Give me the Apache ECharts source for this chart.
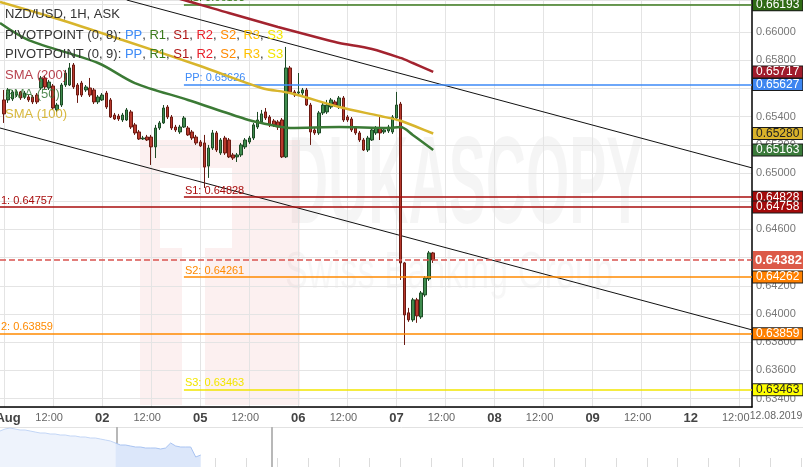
<!DOCTYPE html>
<html><head><meta charset="utf-8">
<script src="https://cdn.jsdelivr.net/npm/echarts@6/dist/echarts.min.js"></script>
<style>html,body{margin:0;padding:0;background:#fff}#c{width:803px;height:467px}</style>
</head><body><div id="c"></div>
<script>
const FONT = "'Liberation Sans', Arial, sans-serif";

// ---- axis scaffolding: trading hours since 01 Aug 00:00 (weekend removed) ----
const hourFirst = -1, hourLast = 183;
const dayLabels = ['Aug', '02', '05', '06', '07', '08', '09', '12'];
const halfDayLabel = '12:00';
const endDateLabel = '12.08.2019';

// ---- NZD/USD 1H candles, hours 0..105 : [open, close, low, high] ----
const candles = [
 [0.65518,0.65419,0.65355,0.65589],[0.65518,0.65589,0.65497,0.65603],[0.65525,0.65575,0.65511,0.65589],
 [0.65553,0.65575,0.65539,0.65589],[0.65575,0.65532,0.65518,0.65582],[0.65539,0.65567,0.65525,0.65582],
 [0.65539,0.65518,0.65504,0.65553],[0.65539,0.65504,0.65489,0.65553],[0.65553,0.65504,0.65489,0.65567],
 [0.65603,0.65674,0.65589,0.65688],[0.65674,0.65610,0.65596,0.65688],[0.65603,0.65645,0.65589,0.65660],
 [0.65617,0.65461,0.65447,0.65631],[0.65447,0.65482,0.65433,0.65497],[0.65482,0.65624,0.65468,0.65638],
 [0.65624,0.65709,0.65610,0.65731],[0.65624,0.65745,0.65617,0.65780],[0.65766,0.65610,0.65596,0.65780],
 [0.65624,0.65553,0.65497,0.65638],[0.65638,0.65553,0.65539,0.65653],[0.65589,0.65610,0.65575,0.65624],
 [0.65603,0.65553,0.65539,0.65674],[0.65589,0.65504,0.65489,0.65603],[0.65504,0.65539,0.65489,0.65553],
 [0.65518,0.65553,0.65511,0.65567],[0.65567,0.65468,0.65454,0.65582],[0.65518,0.65397,0.65390,0.65532],
 [0.65411,0.65383,0.65376,0.65426],[0.65404,0.65383,0.65369,0.65419],[0.65376,0.65411,0.65362,0.65426],
 [0.65376,0.65447,0.65369,0.65461],[0.65433,0.65326,0.65312,0.65447],[0.65341,0.65284,0.65270,0.65355],
 [0.65291,0.65241,0.65234,0.65305],[0.65241,0.65248,0.65234,0.65263],[0.65255,0.65234,0.65227,0.65270],
 [0.65255,0.65185,0.65057,0.65270],[0.65185,0.65319,0.65106,0.65341],[0.65319,0.65355,0.65305,0.65369],
 [0.65355,0.65461,0.65348,0.65482],[0.65468,0.65397,0.65383,0.65482],[0.65397,0.65319,0.65305,0.65411],
 [0.65326,0.65305,0.65291,0.65341],[0.65291,0.65326,0.65277,0.65341],[0.65326,0.65390,0.65319,0.65404],
 [0.65319,0.65270,0.65263,0.65333],[0.65291,0.65248,0.65234,0.65305],[0.65255,0.65213,0.65199,0.65270],
 [0.65220,0.65192,0.65185,0.65234],[0.65213,0.65042,0.64894,0.65270],[0.65049,0.65177,0.64965,0.65199],
 [0.65177,0.65284,0.65163,0.65305],[0.65284,0.65163,0.65149,0.65298],[0.65142,0.65234,0.65128,0.65248],
 [0.65248,0.65142,0.65128,0.65263],[0.65234,0.65114,0.65106,0.65248],[0.65128,0.65106,0.65092,0.65142],
 [0.65114,0.65128,0.65078,0.65142],[0.65128,0.65199,0.65114,0.65213],[0.65185,0.65234,0.65170,0.65248],
 [0.65220,0.65248,0.65206,0.65263],[0.65248,0.65341,0.65234,0.65355],[0.65326,0.65376,0.65312,0.65433],
 [0.65362,0.65419,0.65348,0.65447],[0.65433,0.65390,0.65376,0.65461],[0.65397,0.65341,0.65326,0.65411],
 [0.65369,0.65341,0.65326,0.65383],[0.65362,0.65326,0.65305,0.65376],[0.65376,0.65114,0.65106,0.65390],
 [0.65114,0.65745,0.65106,0.65894],[0.65745,0.65575,0.65560,0.65759],[0.65575,0.65553,0.65539,0.65589],
 [0.65567,0.65575,0.65553,0.65709],[0.65567,0.65589,0.65553,0.65603],[0.65589,0.65482,0.65475,0.65603],
 [0.65482,0.65291,0.65199,0.65497],[0.65305,0.65284,0.65270,0.65319],[0.65284,0.65426,0.65270,0.65440],
 [0.65426,0.65482,0.65411,0.65497],[0.65433,0.65482,0.65419,0.65518],[0.65468,0.65518,0.65454,0.65532],
 [0.65504,0.65482,0.65468,0.65518],[0.65468,0.65532,0.65454,0.65546],[0.65532,0.65376,0.65362,0.65546],
 [0.65397,0.65376,0.65362,0.65411],[0.65383,0.65305,0.65291,0.65397],[0.65319,0.65284,0.65270,0.65333],
 [0.65284,0.65234,0.65220,0.65298],[0.65234,0.65163,0.65156,0.65248],[0.65163,0.65248,0.65149,0.65263],
 [0.65234,0.65305,0.65227,0.65319],[0.65284,0.65319,0.65270,0.65333],[0.65319,0.65284,0.65234,0.65397],
 [0.65291,0.65305,0.65277,0.65319],[0.65298,0.65326,0.65284,0.65341],[0.65291,0.65397,0.65277,0.65411],
 [0.65390,0.65482,0.65376,0.65575],[0.65489,0.64362,0.64241,0.65504],[0.64362,0.63993,0.63780,0.64369],
 [0.64008,0.63958,0.63944,0.64043],[0.63958,0.64100,0.63944,0.64114],[0.64100,0.63986,0.63937,0.64114],
 [0.63979,0.64149,0.63965,0.64163],[0.64135,0.64255,0.64121,0.64269],[0.64248,0.64433,0.64234,0.64447],
 [0.64433,0.64382,0.64362,0.64440]
];

// ---- moving averages: [slot, value] ----
const sma200 = [[34,0.66312],[45,0.66227],[56,0.66135],[68,0.66036],[80,0.65943],[83,0.65922],[91,0.65880],[98,0.65816],[101,0.65780],[106,0.65717]];
const sma100 = [[0,0.66213],[15,0.66085],[30,0.65943],[49,0.65759],[64,0.65603],[71,0.65567],[83,0.65468],[93,0.65404],[98,0.65370],[102,0.65326],[106,0.65280]];
const sma50  = [[0,0.66064],[7,0.65943],[24,0.65780],[33,0.65638],[46,0.65518],[60,0.65383],[64,0.65355],[71,0.65319],[83,0.65326],[95,0.65319],[98,0.65326],[101,0.65270],[106,0.65163]];

// ---- trend channel: [slot, value] ----
const channelUpper = [[31,0.66227],[184,0.65036]];
const channelLower = [[0,0.65319],[184,0.63887]];

// ---- pivot points ----
const pivotNewStartHour = 44;
const pivotNewNames  = ['R1','PP','S1','S2','S3'];
const pivotNewValues = [0.66193, 0.65627, 0.64828, 0.64262, 0.63463];
const pivotNewText   = ['R1: 0.66193','PP: 0.65626','S1: 0.64828','S2: 0.64261','S3: 0.63463'];
const pivotOldNames  = ['S1','S2'];
const pivotOldValues = [0.64758, 0.63859];
const pivotOldText   = ['1: 0.64757','2: 0.63859'];
const lastPrice = 0.64382;

// ---- navigator (overview) values ----
const navValues = [36,38,39,38,37,37,36,35,34,34,33,33,32,32,31,31,30,30,29,29,28,27,26,24,22,22,21,20,20,19,19,19,18,19,24,21,20,20,20,10,12];
const navSplit = 23;

// ---- styles ----
const lineColors = {R1:'#3b7a1c', PP:'#3d8af7', S1:'#a80c0c', S2:'#ff8a00', S3:'#f2e600'};
const boxBg = {R1:'#2f6a14', PP:'#3d86f0', S1:'#a30a0a', S2:'#ff8000', S3:'#ffff00'};
const boxFg = {R1:'#fff', PP:'#fff', S1:'#fff', S2:'#fff', S3:'#222'};
const legendKeys = ['PP','R1','S1','R2','S2','R3','S3'];
const legendColors = {PP:'#3d8af7', R1:'#3b7a1c', S1:'#b01818', R2:'#e8202a', S2:'#ff8a00', R3:'#ffc000', S3:'#f2e600'};
const HIDDEN = 'rgba(0,0,0,0)';

const hours = [];
for (let h = hourFirst; h <= hourLast; h++) hours.push(String(h));
const lastSlot = hours.length - 1;
const slotOf = h => h - hourFirst;
const candleData = [['-','-','-','-']].concat(candles);

function boxLabel(text, bg, fg, extra) {
  return Object.assign({show:true, position:'end', distance:1, formatter:text, backgroundColor:bg, color:fg,
    borderColor:'#1a1a1a', borderWidth:1, padding:[1,3,0,3], fontSize:12, lineHeight:10, fontFamily:FONT}, extra || {});
}
const mlData = [];
function addLevel(startSlot, v, color, boxText, bg, fg, leftText, lineType, extra) {
  mlData.push([{coord:[startSlot, v], lineStyle:{color:color, width:1.5, type:lineType || 'solid'}, label:boxLabel(boxText, bg, fg, extra)},
               {coord:[lastSlot, v]}]);
  if (leftText) mlData.push([{coord:[startSlot, v], lineStyle:{color:HIDDEN, width:1}, label:{show:true, position:'insideStartTop', distance:1,
               formatter:leftText, color:color, fontSize:11, fontFamily:FONT}}, {coord:[lastSlot, v]}]);
}
pivotNewNames.forEach((n, i) => addLevel(slotOf(pivotNewStartHour), pivotNewValues[i], lineColors[n], pivotNewValues[i].toFixed(5), boxBg[n], boxFg[n], pivotNewText[i]));
pivotOldNames.forEach((n, i) => addLevel(0, pivotOldValues[i], lineColors[n], pivotOldValues[i].toFixed(5), boxBg[n], boxFg[n], pivotOldText[i]));
addLevel(0, lastPrice, '#d9534f', lastPrice.toFixed(5), '#dc5a48', '#fff', null, 'dashed',
  {fontSize:13, fontWeight:'bold', lineHeight:14, padding:[2,2,2,2], borderWidth:0});

function smaBox(arr, bg, fg) {
  const v = arr[arr.length - 1][1];
  return {silent:true, symbol:['none','none'], animation:false,
    data:[[{coord:[lastSlot - 1, v], lineStyle:{color:HIDDEN, width:1}, label:boxLabel(v.toFixed(5), bg, fg)}, {coord:[lastSlot, v]}]]};
}

const isTickHour = (idx, val) => { const h = Number(val); return h >= 0 && h % 12 === 0; };

function pivotLegend(arg) {
  return 'PIVOTPOINT ' + arg + ': ' + legendKeys.map(k => '{' + k + '|' + k + '}').join(', ');
}
const legendRich = {};
legendKeys.forEach(k => legendRich[k] = {color:legendColors[k], fontSize:13, fontFamily:FONT});
const tStyle = (color) => ({fontSize:13, fontWeight:'normal', color:color, fontFamily:FONT, rich:legendRich});

const option = {
  animation: false,
  backgroundColor: '#fff',
  title: [
    {text:'NZD/USD, 1H, ASK', left:5, top:8, padding:0, textStyle:tStyle('#333')},
    {text:pivotLegend('(0, 8)'), left:5, top:29, padding:0, textStyle:tStyle('#333')},
    {text:pivotLegend('(0, 9)'), left:5, top:48, padding:0, textStyle:tStyle('#333')},
    {text:'SMA (200)', left:5, top:69, padding:0, textStyle:tStyle('rgba(170,30,45,0.85)')},
    {text:'SMA (50)', left:5, top:88, padding:0, textStyle:tStyle('rgba(55,120,55,0.85)')},
    {text:'SMA (100)', left:5, top:108, padding:0, textStyle:tStyle('rgba(212,176,40,0.9)')}
  ],
  grid: [
    {left:0, right:51, top:0, bottom:60, containLabel:false, outerBoundsMode:'none'},
    {left:0, right:0, top:427, height:40, containLabel:false, outerBoundsMode:'none'}
  ],
  xAxis: [
    {type:'category', gridIndex:0, data:hours, boundaryGap:false,
     axisLine:{show:true, lineStyle:{color:'#000', width:1.5}}, axisTick:{show:false},
     axisLabel:{interval:isTickHour, margin:5, fontFamily:FONT, hideOverlap:false,
       formatter:(val) => { const h = Number(val); return h === 0 ? '{a|' + dayLabels[0] + '}' : h % 24 === 0 ? '{d|' + dayLabels[h / 24] + '}' : '{t|' + halfDayLabel + '}'; },
       rich:{a:{fontSize:13, fontWeight:'bold', color:'#444', fontFamily:FONT, padding:[0,0,0,8]},
             d:{fontSize:13, fontWeight:'bold', color:'#444', fontFamily:FONT},
             t:{fontSize:11, color:'#666', fontFamily:FONT, padding:[0,8,0,0]}}},
     splitLine:{show:true, interval:isTickHour, lineStyle:{color:'#e4e4e4', width:1}}},
    {type:'category', gridIndex:1, position:'top', show:false, boundaryGap:false,
     data:Array.from({length:161}, (_, i) => String(i))},
    {type:'value', gridIndex:1, position:'bottom', min:0, max:26.07, interval:1,
     axisLine:{show:false}, axisLabel:{show:false}, splitLine:{show:false},
     axisTick:{show:true, inside:true, length:9, lineStyle:{color:'#dcdcdc'}}}
  ],
  yAxis: [
    {type:'value', gridIndex:0, position:'right', min:0.6334, max:0.66227, splitNumber:14,
     axisLine:{show:true, lineStyle:{color:'#000', width:1.5}}, axisTick:{show:false},
     axisLabel:{formatter:(v) => v.toFixed(5), color:'#777', fontSize:11, fontFamily:FONT, margin:4,
       showMinLabel:false, showMaxLabel:false},
     splitLine:{show:true, lineStyle:{color:'#e4e4e4', width:1}}},
    {type:'value', gridIndex:1, min:0, max:40, show:false}
  ],
  series: [
    {type:'line', name:'channelUpper', xAxisIndex:0, yAxisIndex:0, data:channelUpper, symbol:'none', silent:true,
     lineStyle:{color:'#111', width:1}, z:3},
    {type:'line', name:'channelLower', xAxisIndex:0, yAxisIndex:0, data:channelLower, symbol:'none', silent:true,
     lineStyle:{color:'#111', width:1}, z:3},
    {type:'candlestick', name:'NZD/USD', xAxisIndex:0, yAxisIndex:0, data:candleData, barWidth:3, z:4,
     itemStyle:{color:'#3f8c4e', color0:'#b8392d', borderColor:'#1d4a25', borderColor0:'#6a1a12', borderWidth:1},
     markLine:{silent:true, symbol:['none','none'], animation:false, data:mlData}},
    {type:'line', name:'SMA (200)', data:sma200, smooth:0.3, symbol:'none', z:5,
     lineStyle:{color:'#a3232f', width:2.5}, markLine:smaBox(sma200, '#a01c2b', '#fff')},
    {type:'line', name:'SMA (100)', data:sma100, smooth:0.3, symbol:'none', z:5,
     lineStyle:{color:'#d8b52c', width:2.5}, markLine:smaBox(sma100, '#d9b22a', '#222')},
    {type:'line', name:'SMA (50)', data:sma50, smooth:0.3, symbol:'none', z:5,
     lineStyle:{color:'#3b7a35', width:2.5}, markLine:smaBox(sma50, '#3a7a3a', '#fff')},
    {type:'line', name:'navA', xAxisIndex:1, yAxisIndex:1, data:navValues.slice(0, navSplit + 1), symbol:'none', silent:true,
     lineStyle:{color:'#c3d6f6', width:1}, areaStyle:{color:'#eef3fc', opacity:1}},
    {type:'line', name:'navB', xAxisIndex:1, yAxisIndex:1,
     data:navValues.map((v, i) => i < navSplit ? '-' : v), symbol:'none', silent:true,
     lineStyle:{color:'#a9c4f2', width:1}, areaStyle:{color:'#dce7fa', opacity:1}}
  ],
  graphic: [
    {type:'rect', z:-10, silent:true, shape:{x:140, y:140, width:160, height:265}, style:{fill:'#fcf0f0'}},
    {type:'rect', z:-9, silent:true, shape:{x:160, y:168, width:72, height:80}, style:{fill:'#fff'}},
    {type:'rect', z:-9, silent:true, shape:{x:182, y:248, width:23, height:157}, style:{fill:'#fff'}},
    {type:'text', z:-8, silent:true, x:288, y:126, scaleX:0.445,
     style:{text:'DUKASCOPY', font:"bold 125px 'Liberation Sans'", fill:'rgba(0,0,0,0.04)'}},
    {type:'text', z:-8, silent:true, x:285, y:248, scaleX:0.66,
     style:{text:'Swiss Banking Group', font:"52px 'Liberation Sans'", fill:'rgba(0,0,0,0.03)'}},
    {type:'text', silent:true, x:776, y:416,
     style:{text:endDateLabel, font:"10.5px 'Liberation Sans'", fill:'#666', textAlign:'center', textVerticalAlign:'middle'}},
    {type:'line', silent:true, shape:{x1:0, y1:427.5, x2:803, y2:427.5}, style:{stroke:'#e2e2e2', lineWidth:1}},
    {type:'line', silent:true, shape:{x1:117, y1:427, x2:117, y2:467}, style:{stroke:'#b8b8b8', lineWidth:2}},
    {type:'line', silent:true, shape:{x1:272, y1:427, x2:272, y2:467}, style:{stroke:'#b8b8b8', lineWidth:2}}
  ]
};
const chart = echarts.init(document.getElementById('c'), null, {renderer:'canvas'});
chart.setOption(option);
</script>
</body></html>
